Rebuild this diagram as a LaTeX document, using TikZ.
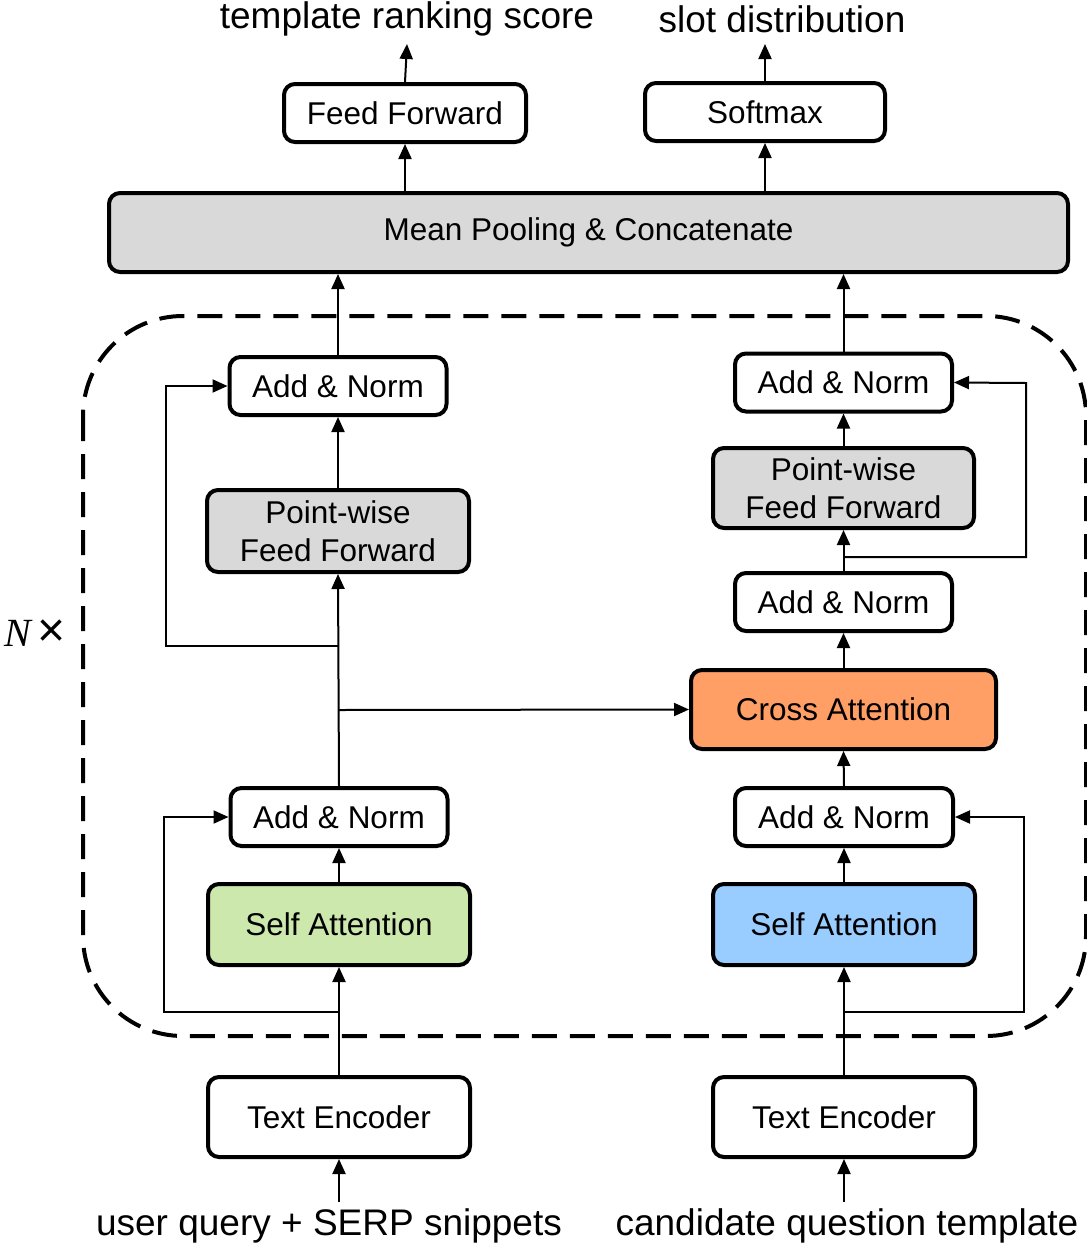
\documentclass[tikz,border=0pt]{standalone}
\usepackage{fontspec}
\setmainfont{Liberation Sans}
\newfontfamily\nxserif{Liberation Serif}
\usetikzlibrary{arrows.meta}
\definecolor{boxgray}{HTML}{D9D9D9}
\definecolor{boxgreen}{HTML}{CCE8AD}
\definecolor{boxblue}{HTML}{99CCFF}
\definecolor{boxorange}{HTML}{FF9F66}
\begin{document}
\begin{tikzpicture}[x=1pt,y=-1pt,
  blk/.style={draw=black,line width=4pt,rounded corners=11pt,inner sep=0pt,align=center,
    font=\fontsize{31.5}{38}\selectfont,minimum height=58pt},
  conn/.style={line width=2pt,-{Triangle[length=15pt,width=13pt]}},
  outlbl/.style={inner sep=0pt,font=\fontsize{37}{40}\selectfont}
]
\useasboundingbox (0,0) rectangle (1087,1245);

% dashed repeat block
\draw[line width=4pt,dash pattern=on 25pt off 13pt,rounded corners=100pt]
  (83,316) rectangle (1086,1036);
\node[inner sep=0pt,anchor=base] (nx) at (35,646)
  {{\fontsize{40}{44}\selectfont\nxserif\itshape N}\hspace{6pt}{\fontsize{48}{50}\selectfont ×}};

% top
\node[blk,minimum width=242pt] (ff) at (405,113) {Feed Forward};
\node[blk,minimum width=240pt] (sm) at (765,112) {Softmax};
\node[blk,fill=boxgray,minimum width=959pt,minimum height=79pt] (mp) at (588.5,232.5) {Mean Pooling \& Concatenate};
\node[outlbl] (trs) at (407,19) {template ranking score};
\node[outlbl] (sd) at (782,19) {slot distribution};
\coordinate (trsb) at (407,44);
\coordinate (sdb) at (765,44);

% left column
\node[blk,minimum width=217pt] (lan2) at (338,386) {Add \& Norm};
\node[blk,fill=boxgray,minimum width=262pt,minimum height=82pt] (lpw) at (338,531) {Point-wise\\Feed Forward};
\node[blk,minimum width=217pt] (lan1) at (339,817) {Add \& Norm};
\node[blk,fill=boxgreen,minimum width=262pt,minimum height=81pt] (lsa) at (339,924.5) {Self Attention};
\node[blk,minimum width=262pt,minimum height=80pt] (lte) at (339,1117) {Text Encoder};
\node[outlbl] (lin) at (329,1226) {user query + SERP snippets};

% right column
\node[blk,minimum width=217pt] (ran3) at (843.5,382.5) {Add \& Norm};
\node[blk,fill=boxgray,minimum width=261pt,minimum height=80pt] (rpw) at (843.5,488) {Point-wise\\Feed Forward};
\node[blk,minimum width=217pt] (ran2) at (843.5,602) {Add \& Norm};
\node[blk,fill=boxorange,minimum width=305pt,minimum height=79pt] (ca) at (843.5,709.5) {Cross Attention};
\node[blk,minimum width=218pt] (ran1) at (844,817) {Add \& Norm};
\node[blk,fill=boxblue,minimum width=262pt,minimum height=81pt] (rsa) at (844,924.5) {Self Attention};
\node[blk,minimum width=262pt,minimum height=80pt] (rte) at (844,1117) {Text Encoder};
\node[outlbl] (rin) at (847,1226) {candidate question template};

% coordinates for branches
\coordinate (lr1) at (339,1012);
\coordinate (lr2) at (339,646);
\coordinate (lx) at (339,710);
\coordinate (rr1) at (844,1012);
\coordinate (rr2) at (843.5,557);
\coordinate (linT) at (339,1202);
\coordinate (rinT) at (844,1202);

% left connectors
\draw[conn] (linT) -- (lte.south);
\draw[conn] (lte.north) -- (lsa.south);
\draw[conn] (lr1) -- (164,1012) -- (164,817) -- (lan1.west);
\draw[conn] (lsa.north) -- (lan1.south);
\draw[conn] (lan1.north) -- (lpw.south);
\draw[conn] (lx) -- (ca.west);
\draw[conn] (lr2) -- (166,646) -- (166,386) -- (lan2.west);
\draw[conn] (lpw.north) -- (lan2.south);
\draw[conn] (lan2.north) -- (lan2.north |- mp.south);

% right connectors
\draw[conn] (rinT) -- (rte.south);
\draw[conn] (rte.north) -- (rsa.south);
\draw[conn] (rr1) -- (1024,1012) -- (1024,817) -- (ran1.east);
\draw[conn] (rsa.north) -- (ran1.south);
\draw[conn] (ran1.north) -- (ca.south);
\draw[conn] (ca.north) -- (ran2.south);
\draw[conn] (ran2.north) -- (rpw.south);
\draw[conn] (rr2) -- (1026,557) -- (1026,383) -- (ran3.east);
\draw[conn] (rpw.north) -- (ran3.south);
\draw[conn] (ran3.north) -- (ran3.north |- mp.south);

% top connectors
\draw[conn] (ff.south |- mp.north) -- (ff.south);
\draw[conn] (sm.south |- mp.north) -- (sm.south);
\draw[conn] (ff.south |- ff.north) -- (trsb);
\draw[conn] (sm.north) -- (sdb);
\end{tikzpicture}
\end{document}
